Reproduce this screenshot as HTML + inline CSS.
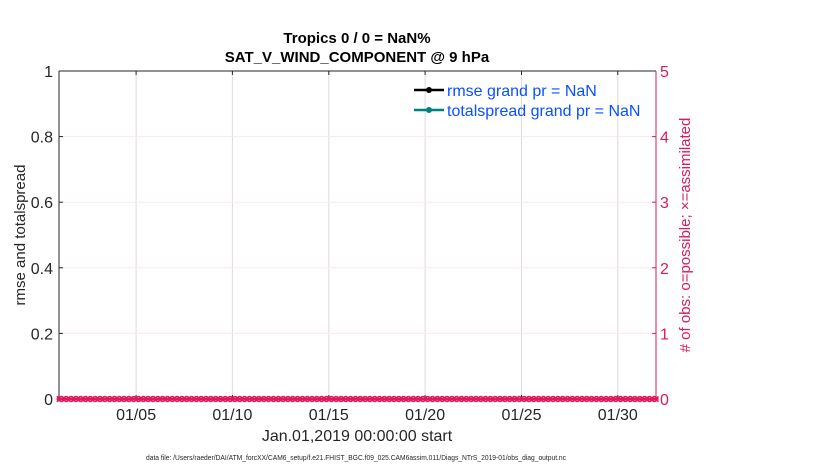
<!DOCTYPE html>
<html><head><meta charset="utf-8"><style>
html,body{margin:0;padding:0;background:#fff;}
svg{display:block;font-family:"Liberation Sans",Arial,sans-serif;}
</style></head><body>
<svg width="830" height="470" viewBox="0 0 830 470" xmlns="http://www.w3.org/2000/svg">
<rect width="830" height="470" fill="#fff"/>
<!-- grid -->
<g stroke="#dcdcdc" stroke-width="1">
<line x1="136.1" y1="71" x2="136.1" y2="399"/>
<line x1="232.4" y1="71" x2="232.4" y2="399"/>
<line x1="328.8" y1="71" x2="328.8" y2="399"/>
<line x1="425.1" y1="71" x2="425.1" y2="399"/>
<line x1="521.5" y1="71" x2="521.5" y2="399"/>
<line x1="617.8" y1="71" x2="617.8" y2="399"/>
</g>
<g stroke="#f8e9ee" stroke-width="1">
<line x1="59" y1="136.6" x2="656" y2="136.6"/>
<line x1="59" y1="202.2" x2="656" y2="202.2"/>
<line x1="59" y1="267.8" x2="656" y2="267.8"/>
<line x1="59" y1="333.4" x2="656" y2="333.4"/>
</g>
<!-- axes -->
<line x1="59" y1="71" x2="656" y2="71" stroke="#262626" stroke-width="1"/>
<line x1="59" y1="399" x2="656" y2="399" stroke="#262626" stroke-width="1"/>
<line x1="59" y1="71" x2="59" y2="399" stroke="#262626" stroke-width="1"/>
<line x1="656" y1="71" x2="656" y2="399" stroke="#d81b60" stroke-width="1"/>
<!-- left ticks -->
<g stroke="#262626" stroke-width="1">
<line x1="59" y1="136.6" x2="63" y2="136.6"/>
<line x1="59" y1="202.2" x2="63" y2="202.2"/>
<line x1="59" y1="267.8" x2="63" y2="267.8"/>
<line x1="59" y1="333.4" x2="63" y2="333.4"/>
</g>
<g stroke="#d81b60" stroke-width="1">
<line x1="652" y1="136.6" x2="656" y2="136.6"/>
<line x1="652" y1="202.2" x2="656" y2="202.2"/>
<line x1="652" y1="267.8" x2="656" y2="267.8"/>
<line x1="652" y1="333.4" x2="656" y2="333.4"/>
</g>
<g stroke="#262626" stroke-width="1">
<line x1="136.1" y1="399" x2="136.1" y2="395"/>
<line x1="232.4" y1="399" x2="232.4" y2="395"/>
<line x1="328.8" y1="399" x2="328.8" y2="395"/>
<line x1="425.1" y1="399" x2="425.1" y2="395"/>
<line x1="521.5" y1="399" x2="521.5" y2="395"/>
<line x1="617.8" y1="399" x2="617.8" y2="395"/>
<line x1="136.1" y1="71" x2="136.1" y2="75"/>
<line x1="232.4" y1="71" x2="232.4" y2="75"/>
<line x1="328.8" y1="71" x2="328.8" y2="75"/>
<line x1="425.1" y1="71" x2="425.1" y2="75"/>
<line x1="521.5" y1="71" x2="521.5" y2="75"/>
<line x1="617.8" y1="71" x2="617.8" y2="75"/>
</g>
<!-- left tick labels -->
<g font-size="16" fill="#262626" text-anchor="end">
<text x="53" y="77">1</text>
<text x="53" y="142.6">0.8</text>
<text x="53" y="208.2">0.6</text>
<text x="53" y="273.8">0.4</text>
<text x="53" y="339.4">0.2</text>
<text x="53" y="405">0</text>
</g>
<!-- right tick labels -->
<g font-size="16" fill="#d81b60" text-anchor="start">
<text x="660" y="77">5</text>
<text x="660" y="142.6">4</text>
<text x="660" y="208.2">3</text>
<text x="660" y="273.8">2</text>
<text x="660" y="339.4">1</text>
<text x="660" y="405">0</text>
</g>
<!-- x tick labels -->
<g font-size="16" fill="#262626" text-anchor="middle">
<text x="136.1" y="420">01/05</text>
<text x="232.4" y="420">01/10</text>
<text x="328.8" y="420">01/15</text>
<text x="425.1" y="420">01/20</text>
<text x="521.5" y="420">01/25</text>
<text x="617.8" y="420">01/30</text>
</g>
<text x="357" y="441" font-size="16" fill="#262626" text-anchor="middle">Jan.01,2019 00:00:00 start</text>
<text x="356" y="460" font-size="7.5" fill="#262626" text-anchor="middle" textLength="420" lengthAdjust="spacingAndGlyphs">data file: /Users/raeder/DAI/ATM_forcXX/CAM6_setup/f.e21.FHIST_BGC.f09_025.CAM6assim.011/Diags_NTrS_2019-01/obs_diag_output.nc</text>
<!-- titles -->
<text x="357" y="43" font-size="15" font-weight="bold" fill="#000" text-anchor="middle">Tropics 0 / 0 = NaN%</text>
<text x="357" y="62" font-size="15" font-weight="bold" fill="#000" text-anchor="middle">SAT_V_WIND_COMPONENT @ 9 hPa</text>
<!-- y labels -->
<text transform="translate(25,235) rotate(-90)" font-size="15" fill="#262626" text-anchor="middle">rmse and totalspread</text>
<text transform="translate(690,235) rotate(-90)" font-size="15" fill="#d81b60" text-anchor="middle"># of obs: o=possible; &#215;=assimilated</text>
<!-- legend -->
<line x1="414" y1="90" x2="444" y2="90" stroke="#000" stroke-width="2.5"/>
<circle cx="429" cy="90" r="3" fill="#000"/>
<line x1="414" y1="110" x2="444" y2="110" stroke="#00807f" stroke-width="2.5"/>
<circle cx="429" cy="110" r="3" fill="#00807f"/>
<text x="447" y="96" font-size="16" fill="#0a50ff">rmse grand pr = NaN</text>
<text x="447" y="116" font-size="16" fill="#0a50ff">totalspread grand pr = NaN</text>
<!-- markers at zero -->
<line x1="57" y1="399" x2="658" y2="399" stroke="#e0185e" stroke-width="2.5"/>
<defs>
<pattern id="p" x="59" y="394" width="4.82" height="10" patternUnits="userSpaceOnUse">
<circle cx="2.41" cy="5" r="2.5" fill="none" stroke="#e0185e" stroke-width="1.4"/>
<path d="M0.6 3.2 L4.2 6.8 M0.6 6.8 L4.2 3.2" stroke="#e0185e" stroke-width="1.1"/>
</pattern>
</defs>
<rect x="56.6" y="394" width="602" height="10" fill="url(#p)"/>
</svg>
</body></html>
